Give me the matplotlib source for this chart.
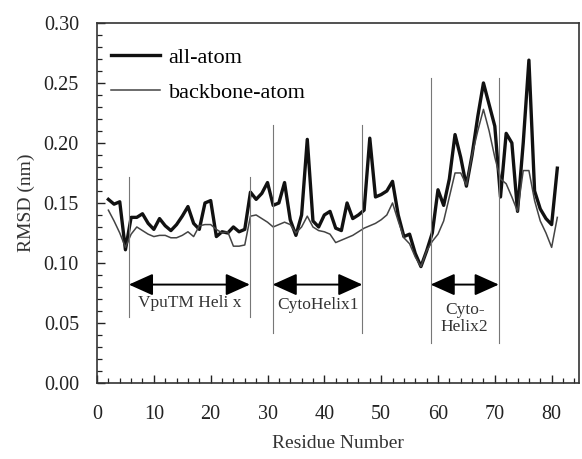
import matplotlib
matplotlib.use("Agg")
import matplotlib.pyplot as plt
from matplotlib.ticker import MultipleLocator

plt.rcParams['font.family'] = ['Liberation Serif', 'DejaVu Serif']

residues = list(range(2, 82))

all_atom = [0.153, 0.149, 0.151, 0.111, 0.138, 0.138, 0.141, 0.133, 0.128, 0.137,
            0.131, 0.127, 0.132, 0.139, 0.147, 0.133, 0.128, 0.150, 0.152, 0.122,
            0.126, 0.125, 0.130, 0.126, 0.128, 0.159, 0.153, 0.158, 0.167, 0.148,
            0.150, 0.167, 0.136, 0.123, 0.140, 0.203, 0.135, 0.130, 0.140, 0.143,
            0.129, 0.127, 0.150, 0.137, 0.140, 0.144, 0.204, 0.155, 0.157, 0.160,
            0.168, 0.140, 0.122, 0.124, 0.108, 0.097, 0.110, 0.125, 0.161, 0.148,
            0.170, 0.207, 0.188, 0.164, 0.190, 0.222, 0.250, 0.232, 0.214, 0.155,
            0.208, 0.200, 0.143, 0.200, 0.269, 0.160, 0.145, 0.137, 0.132, 0.179]

backbone = [0.144, 0.135, 0.125, 0.113, 0.124, 0.130, 0.127, 0.124, 0.122, 0.123,
            0.123, 0.121, 0.121, 0.123, 0.126, 0.122, 0.131, 0.132, 0.132, 0.128,
            0.125, 0.126, 0.114, 0.114, 0.115, 0.139, 0.140, 0.137, 0.134, 0.130,
            0.132, 0.134, 0.132, 0.125, 0.130, 0.139, 0.130, 0.127, 0.126, 0.124,
            0.117, 0.119, 0.121, 0.123, 0.126, 0.129, 0.131, 0.133, 0.136, 0.140,
            0.150, 0.135, 0.121, 0.116, 0.105, 0.097, 0.110, 0.118, 0.124, 0.135,
            0.155, 0.175, 0.175, 0.165, 0.190, 0.210, 0.228, 0.210, 0.188, 0.170,
            0.166, 0.155, 0.143, 0.177, 0.177, 0.152, 0.135, 0.125, 0.113, 0.138]

# helix regions
helix_start = [5.6, 30.9, 58.7]
helix_end = [26.9, 46.7, 70.7]
helix_label = ["VpuTM Heli x", "CytoHelix1", "Cyto-\nHelix2"]
line_top = [0.172, 0.215, 0.254]
line_bottom = [0.055, 0.042, 0.033]
label_y = [0.067, 0.065, 0.054]

fig = plt.figure(figsize=(5.82, 4.59), dpi=100)
ax = fig.add_axes([0.1667, 0.1656, 0.828, 0.7844])

ax.plot(residues, all_atom, color="#111111", lw=2.4, label="all-atom")
ax.plot(residues, backbone, color="#444444", lw=1.1, label="backbone-atom")

for i in range(3):
    for xv in (helix_start[i], helix_end[i]):
        ax.plot([xv, xv], [line_bottom[i], line_top[i]], color="#777777", lw=0.8)
    ax.annotate("", xy=(helix_start[i], 0.082), xytext=(helix_end[i], 0.082),
                arrowprops=dict(arrowstyle="<|-|>,head_length=1.0,head_width=0.45",
                                mutation_scale=15, color="black", lw=1.4,
                                shrinkA=0, shrinkB=0))
    ax.text((helix_start[i] + helix_end[i]) / 2, label_y[i], helix_label[i],
            ha="center", va="center", fontsize=12.5, color="#333333", linespacing=1.1)

ax.set_xlim(0, 84.8)
ax.set_ylim(0, 0.30)
ax.xaxis.set_major_locator(MultipleLocator(10))
ax.xaxis.set_minor_locator(MultipleLocator(2))
ax.yaxis.set_minor_locator(MultipleLocator(0.01))
ax.set_xticks(range(0, 90, 10))
ax.set_xticklabels([str(v) for v in range(0, 90, 10)])
ax.set_yticks([0.0, 0.05, 0.10, 0.15, 0.20, 0.25, 0.30])
ax.set_yticklabels(["0.00", "0.05", "0.10", "0.15", "0.20", "0.25", "0.30"])
ax.tick_params(which="both", direction="in", colors="#222222", labelsize=14.5)
ax.tick_params(which="major", length=6, width=1.0)
ax.tick_params(which="minor", length=3.5, width=0.9)
ax.tick_params(axis="x", pad=16)
ax.tick_params(axis="y", pad=13)
for s in ax.spines.values():
    s.set_linewidth(1.2)
    s.set_color("#333333")

ax.set_xlabel("Residue Number", fontsize=14, color="#333333", labelpad=8)
ax.set_ylabel("RMSD (nm)", fontsize=14, color="#333333", labelpad=6)

ax.legend(loc="upper left", bbox_to_anchor=(0.01, 0.956), frameon=False,
          fontsize=16, handlelength=2.2, borderaxespad=0, labelspacing=0.62,
          handletextpad=0.4)

plt.savefig("out.png", dpi=100)
